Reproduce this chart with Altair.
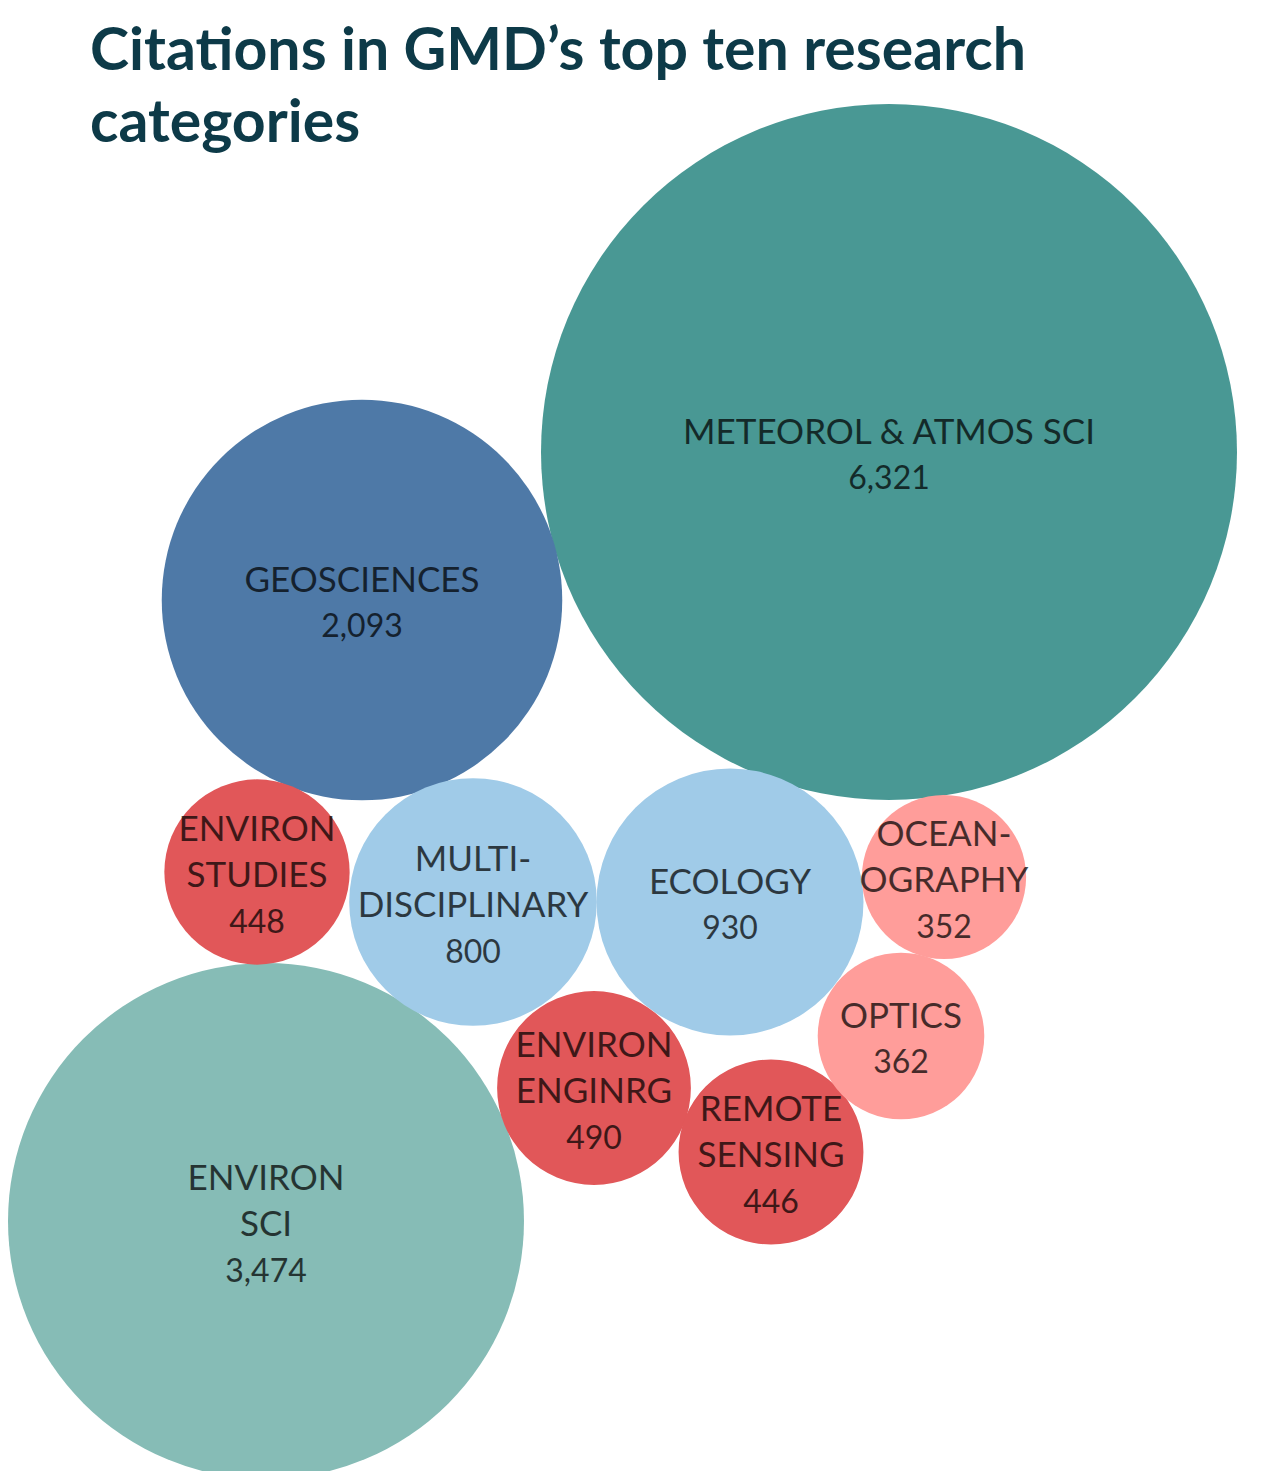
import altair as alt
import pandas as pd

# ---- data ----
categories = ["METEOROL & ATMOS SCI", "ENVIRON SCI", "GEOSCIENCES", "ECOLOGY",
              "MULTIDISCIPLINARY", "ENVIRON ENGINRG", "ENVIRON STUDIES",
              "REMOTE SENSING", "OPTICS", "OCEANOGRAPHY"]
label_lines = [["METEOROL & ATMOS SCI"], ["ENVIRON", "SCI"], ["GEOSCIENCES"],
               ["ECOLOGY"], ["MULTI-", "DISCIPLINARY"], ["ENVIRON", "ENGINRG"],
               ["ENVIRON", "STUDIES"], ["REMOTE", "SENSING"], ["OPTICS"],
               ["OCEAN-", "OGRAPHY"]]
citations = [6321, 3474, 2093, 930, 800, 490, 448, 446, 362, 352]
colors = ["#499894", "#86bcb6", "#4e79a7", "#a0cbe8", "#a0cbe8",
          "#e15759", "#e15759", "#e15759", "#ff9d9a", "#ff9d9a"]
# packed-bubble layout centres (layout units of the plot area)
center_x = [881, 258, 354, 722, 465, 586, 249, 763, 893, 936]
center_y = [444, 1213, 592, 894, 894, 1080, 864, 1144, 1028, 869]

W, H = 1247, 1463
LINE = 46.5
SHIFT = 4
MAX_DIAM = 696

bubbles = pd.DataFrame({
    "category": categories, "citations": citations, "color": colors,
    "cx": center_x, "cy": center_y,
})

rows = []
for cat, lines, val, cx, cy in zip(categories, label_lines, citations, center_x, center_y):
    allines = lines + [f"{val:,}"]
    n = len(allines)
    for k, t in enumerate(allines):
        rows.append({"category": cat, "text": t, "cx": cx,
                     "ty": cy + SHIFT + (k - (n - 1) / 2) * LINE,
                     "isvalue": k == n - 1})
texts = pd.DataFrame(rows)

xs = alt.Scale(domain=[0, W], range=[0, W])
ys = alt.Scale(domain=[0, H], reverse=True)

circles = alt.Chart(bubbles).mark_circle(opacity=1).encode(
    x=alt.X("cx:Q", scale=xs, axis=None),
    y=alt.Y("cy:Q", scale=ys, axis=None),
    size=alt.Size("citations:Q", scale=alt.Scale(domain=[0, 6321], range=[0, MAX_DIAM ** 2]), legend=None),
    color=alt.Color("color:N", scale=None),
    tooltip=["category:N", alt.Tooltip("citations:Q", format=",")],
)

labels = alt.Chart(texts).transform_filter("!datum.isvalue").mark_text(
    font="Lato", fontSize=35, color="#000000", opacity=0.72, baseline="middle", align="center"
).encode(
    x=alt.X("cx:Q", scale=xs, axis=None),
    y=alt.Y("ty:Q", scale=ys, axis=None),
    text="text:N",
)

values = alt.Chart(texts).transform_filter("datum.isvalue").mark_text(
    font="Lato", fontSize=32, color="#000000", opacity=0.72, baseline="middle", align="center"
).encode(
    x=alt.X("cx:Q", scale=xs, axis=None),
    y=alt.Y("ty:Q", scale=ys, axis=None),
    text="text:N",
)

chart = alt.layer(circles, labels, values).properties(
    width=W, height=H,
    autosize=alt.AutoSizeParams(type="none"),
    padding=0,
    title=alt.TitleParams(
        text=["Citations in GMD\u2019s top ten research", "categories"],
        anchor="start", frame="group", orient="top", baseline="top",
        offset=0, dx=82, dy=146, lineHeight=72,
        fontSize=59, font="Lato", fontWeight="bold", color="#0d3a48",
    ),
).configure_view(stroke=None)

chart.save("out.html", embed_options={"renderer": "svg", "actions": False})
